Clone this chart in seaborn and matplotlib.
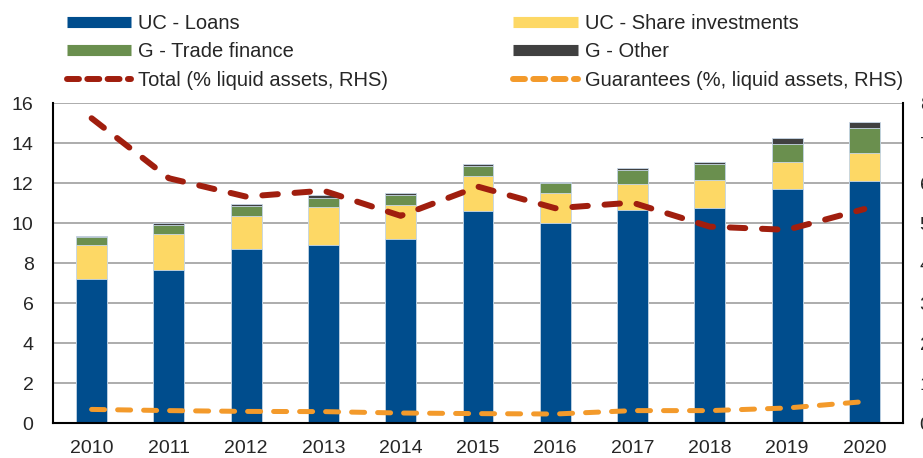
import numpy as np
import pandas as pd
import matplotlib
matplotlib.use("Agg")
import matplotlib.pyplot as plt
from matplotlib.lines import Line2D
import seaborn as sns

# values (LHS for bars, RHS for the lines)
years = ["2010", "2011", "2012", "2013", "2014", "2015", "2016", "2017", "2018", "2019", "2020"]
uc_loans = [7.2, 7.65, 8.7, 8.9, 9.2, 10.6, 10.0, 10.65, 10.77, 11.7, 12.1]
uc_shares = [1.7, 1.8, 1.65, 1.9, 1.7, 1.77, 1.5, 1.3, 1.4, 1.35, 1.4]
g_trade = [0.4, 0.47, 0.48, 0.47, 0.5, 0.48, 0.48, 0.68, 0.8, 0.92, 1.23]
g_other = [0.07, 0.07, 0.13, 0.13, 0.12, 0.1, 0.08, 0.1, 0.1, 0.27, 0.33]
total_rhs = [7.62, 6.12, 5.66, 5.81, 5.18, 5.91, 5.37, 5.51, 4.91, 4.83, 5.35]
guarantees_rhs = [0.34, 0.31, 0.29, 0.285, 0.25, 0.235, 0.225, 0.31, 0.31, 0.375, 0.535]

names = ["UC - Loans", "UC - Share investments", "G - Trade finance", "G - Other"]
colors = ["#004D8D", "#FDD865", "#6A8F4E", "#404040"]
red = "#A01E0E"
orange = "#F39A2B"

sns.set_style("white")
plt.rcParams["font.family"] = ["Liberation Sans", "DejaVu Sans"]

df = pd.DataFrame({"year": years, names[0]: uc_loans, names[1]: uc_shares,
                   names[2]: g_trade, names[3]: g_other})
cum = df[names].cumsum(axis=1)

fig = plt.figure(figsize=(9.23, 4.58), dpi=100)
ax = fig.add_axes([0.0574, 0.0764, 0.9209, 0.6986])

# stacked bars: draw cumulative heights from top layer down
for name, col in reversed(list(zip(names, colors))):
    sns.barplot(x=df["year"], y=cum[name], order=years, color=col, width=0.4,
                saturation=1, edgecolor="#C8D8E8", linewidth=0.6, ax=ax, zorder=2)

ax.set_ylim(0, 16)
ax.set_yticks(np.arange(0, 17, 2))
ax.set_xlim(-0.5, 10.5)
ax.set_xlabel("")
ax.set_ylabel("")
ax.yaxis.grid(True, color="#A6A6A6", linewidth=1.3)
ax.set_axisbelow(True)
ax.tick_params(axis="both", length=0, labelsize=14)
ax.tick_params(axis="x", pad=12)
ax.tick_params(axis="y", pad=14)
for s in ["left", "bottom"]:
    ax.spines[s].set_color("black")
    ax.spines[s].set_linewidth(1.5)
ax.spines["top"].set_visible(False)
ax.spines["right"].set_visible(False)

ax2 = ax.twinx()
pos = np.arange(len(years))
sns.lineplot(x=pos, y=total_rhs, color=red, linewidth=4.3, ax=ax2)
sns.lineplot(x=pos, y=guarantees_rhs, color=orange, linewidth=3.6, ax=ax2)
ax2.lines[0].set_dashes([2.6, 2.8])
ax2.lines[0].set_dash_capstyle("round")
ax2.lines[1].set_dashes([2.6, 2.6])
ax2.lines[1].set_dash_capstyle("round")
ax2.set_ylim(0, 8)
ax2.set_yticks(np.arange(0, 9, 1))
ax2.tick_params(axis="y", length=0, labelsize=14, pad=12)
ax2.set_xlim(-0.5, 10.5)
for s in ["left", "top", "bottom"]:
    ax2.spines[s].set_visible(False)
ax2.spines["right"].set_color("black")
ax2.spines["right"].set_linewidth(1.5)
ax2.set_ylabel("")

# legend
def bar_handle(c):
    return Line2D([0], [0], color=c, linewidth=8, solid_capstyle="butt")

def dash_handle(c):
    h = Line2D([0], [0], color=c, linewidth=4.3, dashes=[2.0, 1.4],
               dash_capstyle="round")
    return h

handles = [bar_handle(colors[0]), bar_handle(colors[2]), dash_handle(red),
           bar_handle(colors[1]), bar_handle(colors[3]), dash_handle(orange)]
labels = [names[0], names[2], "Total (% liquid assets, RHS)",
          names[1], names[3], "Guarantees (%, liquid assets, RHS)"]
fig.legend(handles, labels, ncol=2, loc="upper left", bbox_to_anchor=(0.066, 0.983),
           frameon=False, fontsize=14.5, handlelength=3.2, handletextpad=0.35,
           columnspacing=6.2, labelspacing=0.48, borderpad=0.3, borderaxespad=0)

fig.savefig("out.png", dpi=100)
